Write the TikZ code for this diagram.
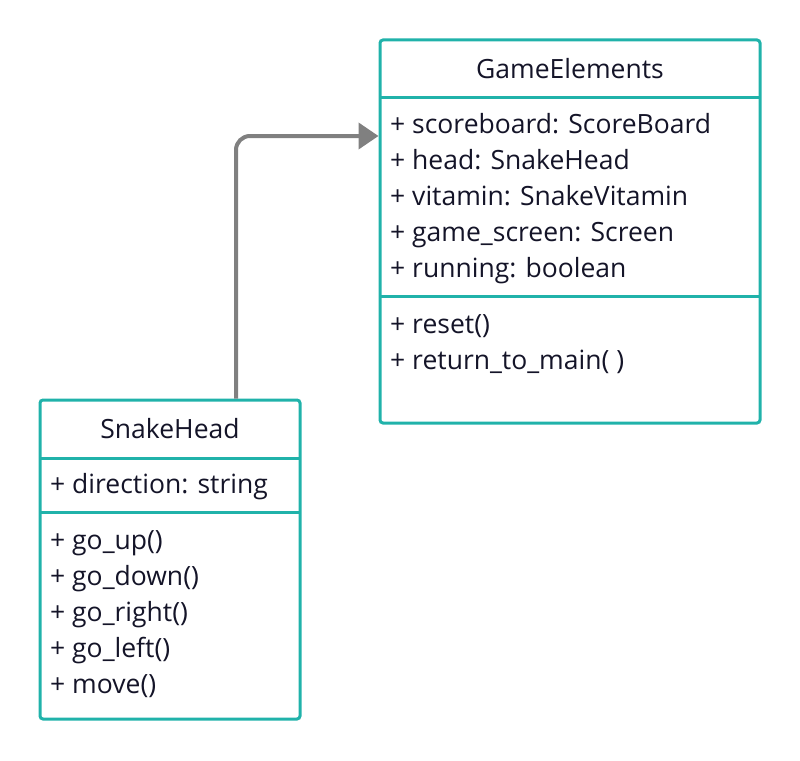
\documentclass[tikz,border=0pt]{standalone}
\usepackage{fontspec}
\setmainfont{Open Sans}
\usetikzlibrary{arrows.meta}
\definecolor{teal1}{RGB}{32,178,170}
\definecolor{txt}{RGB}{20,20,40}
\definecolor{arr}{RGB}{128,128,128}
\tikzset{
  umlbox/.style={draw=teal1, line width=3pt, rounded corners=3pt, inner sep=0pt},
  divider/.style={draw=teal1, line width=3pt},
  title/.style={font=\fontsize{26.5}{30}\selectfont, text=txt, anchor=base, inner sep=0pt},
  member/.style={font=\fontsize{26.5}{30}\selectfont, text=txt, anchor=base west, inner sep=0pt},
  conn/.style={draw=arr, line width=4pt, rounded corners=14pt, -{Triangle[length=20pt,width=26pt]}}
}
\begin{document}
\begin{tikzpicture}[x=1pt,y=-1pt]
\useasboundingbox (0,0) rectangle (800,760);
% GameElements
\node[umlbox, minimum width=380pt, minimum height=383pt] (ge) at (570,231.5) {};
\draw[divider] (380,97) coordinate (g1) -- (760,97) coordinate (g2);
\draw[divider] (380,296) coordinate (g3) -- (760,296) coordinate (g4);
\node[title] (get) at (570,78) {GameElements};
\node[member] (ga1) at (390,133.5) {+ scoreboard: ScoreBoard};
\node[member] (ga2) at (390,169.5) {+ head: SnakeHead};
\node[member] (ga3) at (390,205.5) {+ vitamin: SnakeVitamin};
\node[member] (ga4) at (390,241.5) {+ game\_screen: Screen};
\node[member] (ga5) at (390,277.5) {+ running: boolean};
\node[member] (gm1) at (390,333.5) {+ reset()};
\node[member] (gm2) at (390,369.5) {+ return\_to\_main( )};
% SnakeHead
\node[umlbox, minimum width=260pt, minimum height=319pt] (sh) at (170,559.5) {};
\draw[divider] (40,458) coordinate (s1) -- (300,458) coordinate (s2);
\draw[divider] (40,512) coordinate (s3) -- (300,512) coordinate (s4);
\node[title] (sht) at (170,438) {SnakeHead};
\node[member] (sa1) at (50,493.5) {+ direction: string};
\node[member] (sm1) at (50,549.5) {+ go\_up()};
\node[member] (sm2) at (50,585.5) {+ go\_down()};
\node[member] (sm3) at (50,621.5) {+ go\_right()};
\node[member] (sm4) at (50,657.5) {+ go\_left()};
\node[member] (sm5) at (50,693.5) {+ move()};
% connector
\coordinate (start) at (sh.north -| 236,0);
\coordinate (end) at (ge.west |- 0,136);
\draw[conn] (start) |- (end);
\end{tikzpicture}
\end{document}
